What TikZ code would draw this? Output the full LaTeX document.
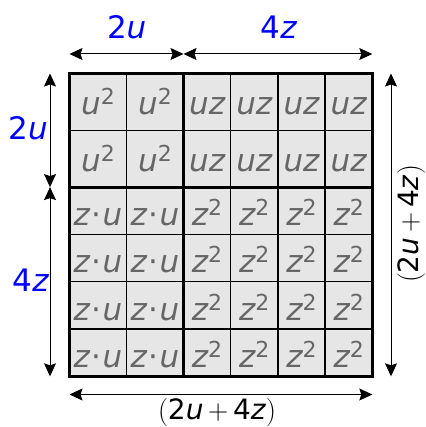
\documentclass[tikz,border=0pt]{standalone}
\usepackage{fontspec}
\newfontfamily\dv{DejaVu Sans}
\usetikzlibrary{arrows.meta}
\definecolor{cellfill}{HTML}{E6E6E6}
\definecolor{celltext}{HTML}{666666}
\definecolor{dimblue}{HTML}{0000FF}
\newcommand{\sqtwo}{\raisebox{0.32em}{\upshape\fontsize{22}{22}\selectfont 2}}
\newcommand{\lmpar}[1]{{\fontspec{Latin Modern Roman}#1}}
\tikzset{
  celltxt/.style={anchor=base, text=celltext, inner sep=0pt, font=\dv\itshape\fontsize{31}{33}\selectfont},
  thinline/.style={line width=1.5pt, black},
  thickline/.style={line width=3pt, black, line cap=rect},
  dimarrow/.style={line width=1pt, black, {Stealth[length=13pt,width=12pt,inset=2pt]}-{Stealth[length=13pt,width=12pt,inset=2pt]}},
  bluelbl/.style={text=dimblue, inner sep=0pt, font=\dv\fontsize{31}{33}\selectfont},
  blacklbl/.style={text=black, inner sep=0pt, font=\dv\fontsize{28}{30}\selectfont}
}
\begin{document}
\begin{tikzpicture}[x=1pt,y=-1pt]
\useasboundingbox (0,0) rectangle (425,427);
% grid background
\fill[cellfill] (69.5,73.5) rectangle (372.3,376.3);
% thin lines
\foreach \xx in {126.5,230.7,277.9,325.1} \draw[thinline] (\xx,73.5) -- (\xx,376.3);
\foreach \yy in {130.3,234.4,281.7,329.0} \draw[thinline] (69.5,\yy) -- (372.3,\yy);
% thick lines
\draw[thickline] (183.5,73.5) -- (183.5,376.3);
\draw[thickline] (69.5,187.1) -- (372.3,187.1);
\draw[thickline] (69.5,73.5) rectangle (372.3,376.3);
% cell texts
\foreach \cx [count=\i] in {98,155} {
  \foreach \cy [count=\j] in {101.9,158.7} {
    \node[celltxt] (uu\i\j) at (\cx,\cy+13) {u\sqtwo};
  }
  \foreach \cy [count=\j] in {210.7,257.9,305.1,352.3} {
    \node[celltxt] (zu\i\j) at (\cx,\cy+15) {z\kern1.5pt\upshape·\kern1.5pt\itshape u};
  }
}
\foreach \cx [count=\i] in {207.1,254.3,301.5,348.7} {
  \foreach \cy [count=\j] in {101.9,158.7} {
    \node[celltxt] (uz\i\j) at (\cx,\cy+13) {uz};
  }
  \foreach \cy [count=\j] in {210.7,257.9,305.1,352.3} {
    \node[celltxt] (zz\i\j) at (\cx,\cy+15) {z\sqtwo};
  }
}
% dimension coordinates
\coordinate (tA) at (69.5,54);
\coordinate (tB) at (183.5,54);
\coordinate (tC) at (372.3,54);
\coordinate (lA) at (50,73.5);
\coordinate (lB) at (50,187.1);
\coordinate (lC) at (50,376.3);
\coordinate (rA) at (391,73.5);
\coordinate (rB) at (391,376.3);
\coordinate (bA) at (69.5,394.5);
\coordinate (bB) at (372.3,394.5);
\draw[dimarrow] (tA) -- (tB);
\draw[dimarrow] (tB) -- (tC);
\draw[dimarrow] (lA) -- (lB);
\draw[dimarrow] (lB) -- (lC);
\draw[dimarrow] (rA) -- (rB);
\draw[dimarrow] (bA) -- (bB);
% labels
\node[bluelbl] (top2u) at (126.7,27) {2\textit{u}};
\node[bluelbl] (top4z) at (279,27) {4\textit{z}};
\node[bluelbl] (left2u) at (28,128) {2\textit{u}};
\node[bluelbl] (left4z) at (31,280) {4\textit{z}};
\node[blacklbl] (bottomlbl) at (217,413) {\lmpar{(}2\textit{u}\,\lmpar{+}\,4\textit{z}\lmpar{)}};
\node[blacklbl, rotate=90] (rightlbl) at (411.5,224) {\lmpar{(}2\textit{u}\,\lmpar{+}\,4\textit{z}\lmpar{)}};
\end{tikzpicture}
\end{document}
